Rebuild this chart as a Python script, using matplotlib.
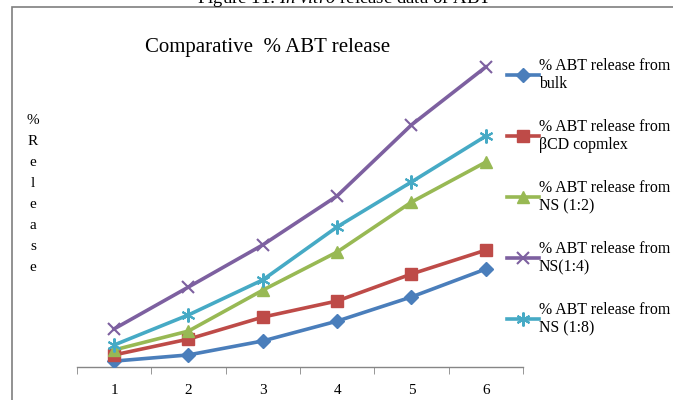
import matplotlib
matplotlib.use("Agg")
import matplotlib.pyplot as plt
from matplotlib.patches import Rectangle
from matplotlib.lines import Line2D

# --------- DATA ----------
time_points = [1, 2, 3, 4, 5, 6]
bulk = [1.9, 3.9, 8.4, 14.8, 22.6, 31.6]
bcd_complex = [3.9, 9.0, 16.1, 21.3, 30.0, 37.7]
ns_1_2 = [5.5, 11.6, 24.8, 37.1, 53.2, 66.1]
ns_1_4 = [12.3, 25.8, 39.4, 55.2, 78.1, 96.8]
ns_1_8 = [7.1, 16.8, 28.1, 45.2, 59.7, 74.5]

labels = [
    "% ABT release from\nbulk",
    "% ABT release from\n\u03b2CD copmlex",
    "% ABT release from\nNS (1:2)",
    "% ABT release from\nNS(1:4)",
    "% ABT release from\nNS (1:8)",
]

plt.rcParams["font.family"] = ["Liberation Serif", "DejaVu Serif"]
plt.rcParams["mathtext.fontset"] = "custom"
plt.rcParams["mathtext.rm"] = "Liberation Serif"
plt.rcParams["mathtext.it"] = "Liberation Serif:italic"

fig = plt.figure(figsize=(6.73, 4.0), dpi=100)
ax = fig.add_axes([0.1144, 0.0825, 0.6627, 0.775])

styles = [
    (bulk, "#4a7ebb", "D", 7, 1.0),
    (bcd_complex, "#be4b48", "s", 8, 1.0),
    (ns_1_2, "#98b954", "^", 8, 1.0),
    (ns_1_4, "#7d60a0", "x", 9, 1.5),
    (ns_1_8, "#46aac5", (6, 2, 0), 10, 1.5),
]

handles = []
for (vals, col, mk, ms, mew), lab in zip(styles, labels):
    ax.plot(time_points, vals, color=col, lw=2.6, marker=mk, ms=ms,
            mec=col, mfc=col, mew=mew, zorder=3)
    handles.append(Line2D([], [], color=col, lw=2.6, marker=mk, ms=ms,
                          mec=col, mfc=col, mew=mew, label=lab))

ax.set_xlim(0.5, 6.5)
ax.set_ylim(0, 100)
for s in ["top", "right", "left"]:
    ax.spines[s].set_visible(False)
ax.spines["bottom"].set_color("#868686")
ax.spines["bottom"].set_linewidth(1.0)
ax.set_yticks([])
ax.set_xticks(time_points)
ax.set_xticks([0.5 + i for i in range(7)], minor=True)
ax.tick_params(axis="x", which="major", length=0, pad=12, labelsize=11)
ax.tick_params(axis="x", which="minor", length=5, color="#868686", direction="out")

fig.text(0.398, 0.882, "Comparative  % ABT release", fontsize=15, ha="center", va="center")

fig.text(0.049, 0.514, "\n".join("%Release"), fontsize=11, ha="center", va="center",
         linespacing=1.8)

fig.legend(handles=handles, loc="upper left", bbox_to_anchor=(0.7416, 0.876),
           frameon=False, fontsize=11.4, handlelength=2.0, handletextpad=0.0,
           labelspacing=1.68, borderpad=0)

# frame around the figure panel and the caption cut off at the top
fig.patches.append(Rectangle((12 / 673, -0.1), 1.2, 1.1 - 7 / 400, transform=fig.transFigure,
                             fill=False, ec="#7f7f7f", lw=1.2))
fig.text(344 / 673, 1 - 3 / 400, "Figure 11: $\\mathit{In\\ vitro}$ release data of ABT",
         fontsize=13.5, ha="center", va="baseline")

fig.savefig("out.png", dpi=100)
